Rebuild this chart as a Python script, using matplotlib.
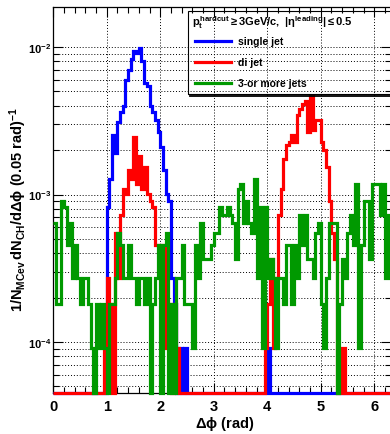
import matplotlib
matplotlib.use("Agg")
import matplotlib.pyplot as plt
import numpy as np
from matplotlib.lines import Line2D
from matplotlib.patches import Rectangle
from matplotlib.ticker import MultipleLocator, LogLocator, NullFormatter, LogFormatterMathtext

plt.rcParams["font.family"] = ["Liberation Sans", "DejaVu Sans"]
plt.rcParams["font.weight"] = "bold"
plt.rcParams["mathtext.fontset"] = "custom"
plt.rcParams["mathtext.rm"] = "Liberation Sans:bold"
plt.rcParams["mathtext.it"] = "Liberation Sans:bold"
plt.rcParams["mathtext.bf"] = "Liberation Sans:bold"

W, H = 390, 435

# histogram: 0.05 rad bins, entries per bin; one entry = 9.1e-5 (1/N_ev per 0.05 rad)
bin_width = 0.05
entry_scale = 9.1e-5

single_jet = [
    0, 0, 0, 0, 0, 0, 0, 0, 0, 0, 0, 0, 0, 0, 0, 0, 0, 0, 0, 0, 9,
    14, 28, 21, 34, 40, 44, 66, 77, 91, 103, 100, 108, 89, 63, 60, 44, 40, 35, 29, 23, 16,
    11, 10, 3, 2, 0, 1, 0, 1, 0, 0, 0, 0, 0, 0, 0, 0, 0, 0, 0, 0, 0,
    0, 0, 0, 0, 0, 0, 0, 0, 0, 0, 0, 0, 0, 0, 0, 0, 0, 1, 0, 0, 0,
    0, 0, 0, 0, 0, 0, 0, 0, 0, 0, 0, 0, 0, 0, 0, 0, 0, 0, 0, 0, 0,
    0, 0, 0, 0, 0, 0, 0, 0, 0, 0, 0, 0, 0, 0, 0, 0, 0, 0, 0, 0, 0,
]
di_jet = [
    0, 0, 0, 0, 0, 0, 0, 0, 0, 0, 0, 0, 0, 0, 0, 0, 0, 0, 0, 1, 3,
    2, 0, 6, 3, 8, 12, 11, 16, 14, 27, 13, 20, 12, 17, 11, 10, 9, 5, 5, 3, 5,
    1, 2, 0, 2, 1, 0, 0, 0, 0, 0, 0, 0, 0, 0, 0, 0, 0, 0, 0, 0, 0,
    0, 0, 0, 0, 0, 0, 0, 0, 0, 0, 0, 0, 0, 0, 0, 0, 1, 2, 4, 1, 3,
    8, 12, 19, 24, 25, 28, 25, 38, 42, 45, 47, 29, 51, 30, 35, 35, 25, 22, 17, 10, 6,
    4, 0, 0, 1, 0, 0, 0, 0, 0, 0, 0, 0, 0, 0, 0, 0, 0, 0, 0, 0, 0,
]
three_jets = [
    7, 2, 2, 10, 9, 5, 7, 3, 5, 3, 2, 3, 3, 2, 1, 0, 2, 1, 2, 1, 0,
    2, 2, 3, 6, 5, 3, 3, 5, 3, 3, 2, 3, 3, 2, 3, 0, 2, 3, 5, 0, 5,
    6, 0, 2, 0, 3, 3, 5, 2, 2, 2, 1, 5, 3, 7, 4, 4, 4, 5, 6, 6, 9,
    8, 8, 9, 8, 7, 4, 12, 13, 7, 10, 7, 6, 14, 3, 9, 1, 9, 3, 4, 3, 1,
    3, 3, 2, 5, 5, 2, 5, 3, 8, 5, 8, 4, 4, 3, 6, 7, 2, 1, 3, 7, 7,
    7, 0, 2, 4, 3, 6, 8, 5, 13, 1, 5, 10, 10, 4, 13, 13, 13, 8, 13, 3, 8,
]

labels = ["single jet", "di jet", "3-or more jets"]
colors = ["#0000ff", "#ff0000", "#009900"]
header = r"$p_{t}^{hardcut}\geq3GeV/c,\ |\eta^{leading}|\leq0.5$"

ymin, ymax = 4.51e-5, 1.87e-2

fig = plt.figure(figsize=(W / 100, H / 100), dpi=100)
ax = fig.add_axes([53.2 / W, (H - 394) / H, (391 - 53.2) / W, (394 - 8) / H])

edges = np.arange(len(three_jets) + 1) * bin_width
for counts, col in zip([single_jet, di_jet, three_jets], colors):
    c = np.asarray(counts, dtype=float)
    y = np.where(c > 0, c * entry_scale, ymin)
    ax.stairs(y, edges, baseline=None, color=col, lw=2.3, clip_on=False, zorder=3)

ax.set_yscale("log")
ax.set_xlim(0, (391 - 53.2) / 53.5)
ax.set_ylim(ymin, ymax)

ax.xaxis.set_major_locator(MultipleLocator(1))
ax.xaxis.set_minor_locator(MultipleLocator(0.2))
ax.yaxis.set_major_locator(LogLocator(base=10))
ax.yaxis.set_minor_locator(LogLocator(base=10, subs=np.arange(2, 10)))
ax.yaxis.set_minor_formatter(NullFormatter())
ax.yaxis.set_major_formatter(LogFormatterMathtext())

ax.tick_params(which="both", direction="in", top=True, right=True, width=0.8)
ax.tick_params(axis="x", which="major", length=7, labelsize=10.5, pad=4)
ax.tick_params(axis="x", which="minor", length=4)
ax.tick_params(axis="y", which="major", length=7, labelsize=8, pad=1.5)
ax.tick_params(axis="y", which="minor", length=4.5)
for lab in ax.get_xticklabels() + ax.get_yticklabels():
    lab.set_fontweight("bold")

ax.set_axisbelow(True)
ax.grid(True, axis="x", which="major", color="black", lw=0.7, ls=(0, (1, 2)))
ax.grid(True, axis="y", which="both", color="black", lw=0.7, ls=(0, (1, 2)))
for sp in ax.spines.values():
    sp.set_linewidth(0.9)

fig.text(18 / W, 1 - 210 / H, r"$1/N_{MCev}\,dN_{CH}/d\Delta\phi\ (0.05\ rad)^{-1}$",
         rotation=90, ha="center", va="center", fontsize=10.5)
fig.text(225 / W, 1 - 424 / H, r"$\Delta\phi$ (rad)", ha="center", va="center", fontsize=10.5)

# legend box
fig.add_artist(Rectangle((188 / W, 1 - 94.5 / H), (400 - 188) / W, (94.5 - 12.3) / H,
                         transform=fig.transFigure, fill=False, ec="black", lw=0.8))
fig.add_artist(Line2D([190 / W, 1.0], [1 - 96.5 / H] * 2, transform=fig.transFigure,
                      color="black", lw=1.3))
fig.text(192 / W, 1 - 23 / H, header, ha="left", va="center", fontsize=8)
for i, (lab, col) in enumerate(zip(labels, colors)):
    yy = 1 - (42.3 + 21 * i) / H
    fig.add_artist(Line2D([195 / W, 231 / W], [yy, yy], transform=fig.transFigure, color=col, lw=2.3))
    fig.text(238 / W, yy, lab, ha="left", va="center", fontsize=7.5)

fig.savefig("out.png", dpi=100)
